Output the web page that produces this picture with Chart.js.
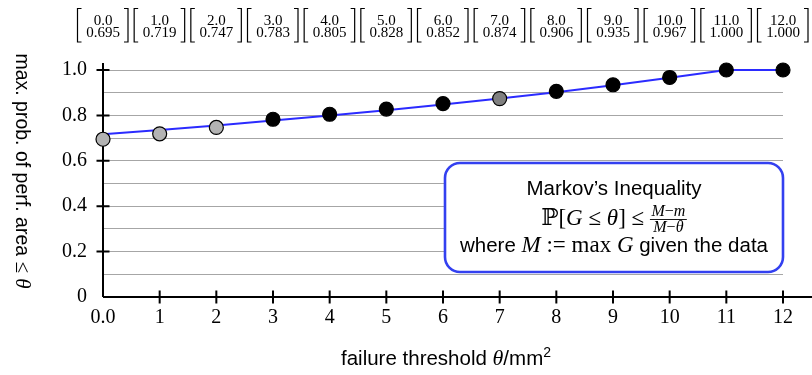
<!DOCTYPE html>
<html>
<head>
<meta charset="utf-8">
<script src="https://cdn.jsdelivr.net/npm/chart.js@4.4.1/dist/chart.umd.min.js"></script>
<style>
  html, body { margin: 0; padding: 0; background: #fff; }
  canvas { display: block; }
</style>
</head>
<body>
<canvas id="c" width="812" height="375"></canvas>
<script>
// ---- data ----
const thresholds = [0, 1, 2, 3, 4, 5, 6, 7, 8, 9, 10, 11, 12];
const probValues = [0.695, 0.719, 0.747, 0.783, 0.805, 0.828, 0.852, 0.874, 0.906, 0.935, 0.967, 1.000, 1.000];
const markovBound = [0.717, 0.736, 0.755, 0.777, 0.800, 0.823, 0.848, 0.874, 0.902, 0.933, 0.966, 1.000, 1.000];
const xTickLabels = ['0.0', '1', '2', '3', '4', '5', '6', '7', '8', '9', '10', '11', '12'];
const yTickLabels = ['0', '0.2', '0.4', '0.6', '0.8', '1.0'];
const topTopLabels = ['0.0', '1.0', '2.0', '3.0', '4.0', '5.0', '6.0', '7.0', '8.0', '9.0', '10.0', '11.0', '12.0'];
const topBottomLabels = ['0.695', '0.719', '0.747', '0.783', '0.805', '0.828', '0.852', '0.874', '0.906', '0.935', '0.967', '1.000', '1.000'];
const pointShade = ['light', 'light', 'light', 'dark', 'dark', 'dark', 'dark', 'mid', 'dark', 'dark', 'dark', 'dark', 'dark'];

// ---- styles ----
const shadeColor = { light: '#b3b3b3', mid: '#808080', dark: '#000000' };
const SERIF = '"Liberation Serif", "DejaVu Serif", serif';
const SANS = '"Liberation Sans", Arial, sans-serif';

function runsWidth(ctx, runs) {
  let w = 0;
  for (const r of runs) { ctx.font = r.f; w += ctx.measureText(r.t).width; }
  return w;
}
function drawRuns(ctx, runs, x, y) {
  let cx = x - runsWidth(ctx, runs) / 2;
  ctx.textAlign = 'left';
  ctx.textBaseline = 'alphabetic';
  for (const r of runs) {
    ctx.font = r.f;
    ctx.fillText(r.t, cx, y + (r.dy || 0));
    cx += ctx.measureText(r.t).width;
  }
}
function roundRect(ctx, x, y, w, h, r) {
  ctx.beginPath();
  ctx.moveTo(x + r, y);
  ctx.lineTo(x + w - r, y);
  ctx.arcTo(x + w, y, x + w, y + r, r);
  ctx.lineTo(x + w, y + h - r);
  ctx.arcTo(x + w, y + h, x + w - r, y + h, r);
  ctx.lineTo(x + r, y + h);
  ctx.arcTo(x, y + h, x, y + h - r, r);
  ctx.lineTo(x, y + r);
  ctx.arcTo(x, y, x + r, y, r);
  ctx.closePath();
}

const axesPlugin = {
  id: 'axesPlugin',
  beforeDatasetsDraw(chart) {
    const ctx = chart.ctx;
    const xs = chart.scales.x, ys = chart.scales.y;
    const x0 = xs.getPixelForValue(0), y0 = ys.getPixelForValue(0);
    ctx.save();
    ctx.strokeStyle = '#000';
    ctx.lineWidth = 2;
    ctx.lineCap = 'butt';
    ctx.beginPath();
    ctx.moveTo(x0, y0); ctx.lineTo(chart.width, y0);
    ctx.moveTo(x0, y0); ctx.lineTo(x0, ys.getPixelForValue(1) - 7);
    ctx.stroke();
    ctx.beginPath();
    for (const v of thresholds) {
      if (v === 0) continue;
      const px = xs.getPixelForValue(v);
      ctx.moveTo(px, y0 - 6.5); ctx.lineTo(px, y0 + 6.5);
    }
    for (let i = 1; i < yTickLabels.length; i++) {
      const py = ys.getPixelForValue(i * 0.2);
      ctx.moveTo(x0 - 6.5, py); ctx.lineTo(x0 + 6.5, py);
    }
    ctx.stroke();
    ctx.restore();
  },
  afterDraw(chart) {
    const ctx = chart.ctx;
    const xs = chart.scales.x;
    ctx.save();
    ctx.fillStyle = '#000';
    ctx.strokeStyle = '#000';
    // top bracket labels
    for (let i = 0; i < thresholds.length; i++) {
      const cx = xs.getPixelForValue(thresholds[i]);
      ctx.font = '15px ' + SERIF;
      ctx.textAlign = 'center';
      ctx.textBaseline = 'alphabetic';
      ctx.fillText(topTopLabels[i], cx, 25);
      ctx.fillText(topBottomLabels[i], cx, 37);
      ctx.lineWidth = 1.2;
      const l = cx - 25.5, r = cx + 25, t = 8.5, b = 42;
      ctx.beginPath();
      ctx.moveTo(l + 4, t); ctx.lineTo(l, t); ctx.lineTo(l, b); ctx.lineTo(l + 4, b);
      ctx.moveTo(r - 4, t); ctx.lineTo(r, t); ctx.lineTo(r, b); ctx.lineTo(r - 4, b);
      ctx.stroke();
    }
    // annotation box
    const bl = 445, bt = 163, bw = xs.getPixelForValue(12) - 445, bh = 109;
    roundRect(ctx, bl, bt, bw, bh, 15);
    ctx.fillStyle = '#fff';
    ctx.fill();
    ctx.lineWidth = 2.6;
    ctx.strokeStyle = '#3340f0';
    ctx.stroke();
    ctx.fillStyle = '#000';
    const bc = bl + bw / 2;
    const sans = '20.5px ' + SANS;
    drawRuns(ctx, [{ t: 'Markov\u2019s Inequality', f: sans }], bc, 195);
    const fs = '23px ' + SERIF, fi = 'italic 23px ' + SERIF;
    const left = [
      { t: '\u2119[', f: fs }, { t: 'G', f: fi }, { t: ' \u2264 ', f: fs },
      { t: '\u03B8', f: fi }, { t: '] \u2264 ', f: fs }
    ];
    const fracF = 'italic 16px ' + SERIF, fracU = '16px ' + SERIF;
    const num = [{ t: 'M', f: fracF }, { t: '\u2212', f: fracU }, { t: 'm', f: fracF }];
    const den = [{ t: 'M', f: fracF }, { t: '\u2212', f: fracU }, { t: '\u03B8', f: fracF }];
    const lw = runsWidth(ctx, left);
    const fw = Math.max(runsWidth(ctx, num), runsWidth(ctx, den)) + 3;
    const startX = bc - (lw + fw) / 2;
    drawRuns(ctx, left, startX + lw / 2, 225);
    const fcx = startX + lw + fw / 2;
    drawRuns(ctx, num, fcx, 216);
    drawRuns(ctx, den, fcx, 231.5);
    ctx.lineWidth = 0.9;
    ctx.strokeStyle = '#000';
    ctx.beginPath();
    ctx.moveTo(fcx - fw / 2, 219.5); ctx.lineTo(fcx + fw / 2, 219.5);
    ctx.stroke();
    drawRuns(ctx, [
      { t: 'where ', f: sans }, { t: 'M', f: fi }, { t: ' := max ', f: fs },
      { t: 'G', f: fi }, { t: ' given the data', f: sans }
    ], bc, 252);
    // x title
    drawRuns(ctx, [
      { t: 'failure threshold ', f: sans }, { t: '\u03B8', f: 'italic 22px ' + SERIF },
      { t: '/mm', f: sans }, { t: '2', f: '14px ' + SANS, dy: -8 }
    ], 446, 365);
    // y title (rotated clockwise)
    ctx.translate(22, 171);
    ctx.rotate(Math.PI / 2);
    drawRuns(ctx, [
      { t: 'max. prob. of perf. area ', f: '19.5px ' + SANS }, { t: '\u2264', f: '21px ' + SERIF },
      { t: ' \u03B8', f: 'italic 21px ' + SERIF }
    ], 0, 6);
    ctx.restore();
  }
};

new Chart(document.getElementById('c'), {
  type: 'line',
  data: {
    datasets: [
      {
        label: 'max. prob.',
        data: thresholds.map((t, i) => ({ x: t, y: probValues[i] })),
        showLine: false,
        pointRadius: 7,
        pointHoverRadius: 7,
        pointBackgroundColor: pointShade.map(s => shadeColor[s]),
        pointBorderColor: '#000',
        pointBorderWidth: 1.2,
        order: 0,
        clip: false
      },
      {
        label: 'Markov bound',
        data: thresholds.map((t, i) => ({ x: t, y: markovBound[i] })),
        borderColor: '#2b2bff',
        borderWidth: 2,
        pointRadius: 0,
        tension: 0,
        fill: false,
        order: 1,
        clip: false
      }
    ]
  },
  options: {
    responsive: false,
    animation: false,
    events: [],
    layout: { padding: { left: 0, top: 70, right: 29, bottom: 0 } },
    plugins: { legend: { display: false }, tooltip: { enabled: false } },
    scales: {
      x: {
        type: 'linear', min: 0, max: 12,
        grid: { display: false, drawTicks: false },
        border: { display: false },
        ticks: {
          stepSize: 1, autoSkip: false, maxRotation: 0, padding: 9,
          color: '#000', font: { family: SERIF, size: 20 },
          callback: (v) => xTickLabels[v]
        },
        afterFit: (s) => { s.height = 78; }
      },
      y: {
        type: 'linear', min: 0, max: 1,
        grid: {
          drawTicks: false, lineWidth: 1,
          color: (c) => (c.tick && c.tick.value === 0) ? 'rgba(0,0,0,0)' : '#a6a6a6'
        },
        border: { display: false },
        ticks: {
          stepSize: 0.1, autoSkip: false, padding: 16,
          color: '#000', font: { family: SERIF, size: 20 },
          callback: (v, i) => (i % 2 === 0 ? yTickLabels[i / 2] : '')
        },
        afterFit: (s) => { s.width = 103; }
      }
    }
  },
  plugins: [axesPlugin]
});
</script>
</body>
</html>
